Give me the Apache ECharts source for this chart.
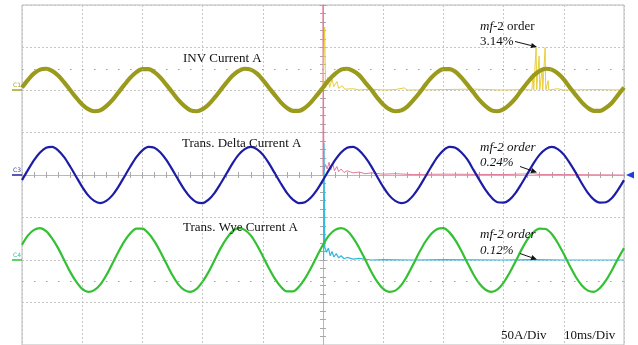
<!DOCTYPE html>
<html><head><meta charset="utf-8">
<script src="https://cdn.jsdelivr.net/npm/echarts@6/dist/echarts.min.js"></script>
<style>html,body{margin:0;padding:0;background:#fff}#c{width:638px;height:345px}</style>
</head><body><div id="c"></div>
<script>
// time base: ms (10 ms / div), vertical: divisions (50 A / div)
const timeMs = [0,1,2,3,4,5,6,7,8,9,10,11,12,13,14,15,16,17,18,19,20,21,22,23,24,25,26,27,28,29,30,31,32,33,34,35,36,37,38,39,40,41,42,43,44,45,46,47,48,49,
  50,51,52,53,54,55,56,57,58,59,60,61,62,63,64,65,66,67,68,69,70,71,72,73,74,75,76,77,78,79,80,81,82,83,84,85,86,87,88,89,90,91,92,93,94,95,96,97,98,99,100];
const c1Div = [2.06,2.24,2.39,2.48,2.50,2.45,2.34,2.18,2.00,1.82,1.66,1.55,1.50,1.52,1.62,1.76,1.94,2.12,2.29,2.42,2.49,2.49,2.42,2.29,2.12,
  1.94,1.76,1.62,1.52,1.50,1.55,1.66,1.82,2.00,2.18,2.34,2.45,2.50,2.48,2.39,2.24,2.06,1.88,1.71,1.58,1.51,1.51,1.58,1.71,1.88,
  2.06,2.24,2.38,2.48,2.50,2.45,2.35,2.18,2.01,1.82,1.66,1.55,1.50,1.52,1.61,1.76,1.93,2.12,2.29,2.42,2.49,2.49,2.43,2.29,2.12,
  1.94,1.76,1.62,1.52,1.50,1.55,1.66,1.81,2.00,2.18,2.34,2.45,2.50,2.48,2.39,2.25,2.06,1.88,1.71,1.58,1.51,1.51,1.58,1.70,1.88,2.06];
const c3Div = [-0.12,0.12,0.35,0.53,0.64,0.66,0.58,0.42,0.20,-0.04,-0.28,-0.48,-0.61,-0.66,-0.61,-0.48,-0.28,-0.04,0.20,0.42,0.58,0.66,0.64,0.53,0.35,
  0.12,-0.12,-0.35,-0.53,-0.64,-0.66,-0.58,-0.42,-0.20,0.04,0.28,0.48,0.61,0.66,0.61,0.48,0.28,0.04,-0.20,-0.42,-0.58,-0.66,-0.64,-0.53,-0.35,
  -0.12,0.12,0.35,0.53,0.64,0.66,0.58,0.42,0.21,-0.04,-0.28,-0.48,-0.61,-0.66,-0.62,-0.48,-0.28,-0.04,0.20,0.42,0.58,0.66,0.64,0.53,0.36,
  0.12,-0.12,-0.35,-0.53,-0.64,-0.65,-0.58,-0.42,-0.20,0.04,0.28,0.48,0.61,0.66,0.61,0.48,0.28,0.05,-0.20,-0.42,-0.58,-0.65,-0.64,-0.54,-0.35,-0.12];
const c4Div = [-1.64,-1.42,-1.29,-1.25,-1.32,-1.49,-1.72,-2.00,-2.28,-2.51,-2.68,-2.75,-2.71,-2.58,-2.36,-2.09,-1.81,-1.56,-1.37,-1.26,-1.26,-1.37,-1.56,-1.81,-2.09,
  -2.36,-2.58,-2.71,-2.75,-2.68,-2.51,-2.28,-2.00,-1.72,-1.49,-1.32,-1.25,-1.29,-1.42,-1.64,-1.91,-2.19,-2.44,-2.63,-2.74,-2.74,-2.63,-2.44,-2.19,-1.91,
  -1.64,-1.42,-1.29,-1.25,-1.31,-1.48,-1.71,-1.99,-2.27,-2.51,-2.68,-2.75,-2.72,-2.59,-2.37,-2.10,-1.82,-1.57,-1.38,-1.27,-1.25,-1.35,-1.54,-1.79,-2.07,
  -2.34,-2.56,-2.70,-2.75,-2.69,-2.53,-2.30,-2.03,-1.75,-1.51,-1.34,-1.26,-1.27,-1.39,-1.60,-1.86,-2.14,-2.40,-2.60,-2.72,-2.75,-2.66,-2.48,-2.24,-1.97,-1.72];
// spectrum (math) traces drawn on the right half
const invFFT = [[50,2.0],[50.15,2.0],[50.28,3.48],[50.42,2.05],[50.8,2.3],[51.1,2.06],[51.5,2.25],[51.8,2.08],[52.3,2.2],[52.6,2.04],[53.2,2.1],[53.6,2.02],
  [55,2.03],[56,2.0],[58,2.02],[60,2.0],[62,2.01],[63.5,2.05],[64,2.0],[70,2.01],[75,2.02],[80,2.0],[83,2.01],[84.7,2.0],
  [84.9,2.4],[85.0,2.0],[85.3,2.0],[85.4,3.0],[85.5,2.0],[85.8,2.0],[85.9,2.8],[86.0,2.0],[86.3,2.0],[86.4,2.5],[86.5,2.0],[86.8,2.0],[86.9,3.0],[87.0,2.0],[87.3,2.0],[87.4,2.22],[87.5,2.0],
  [89,2.03],[90,2.0],[95,2.01],[100,2.0]];
const deltaFFT = [[50,0],[50.02,4.0],[50.15,0.1],[50.4,0.25],[50.7,0.14],[51,0.3],[51.3,0.12],[51.6,0.28],[51.9,0.1],[52.3,0.2],[52.6,0.08],[53,0.14],[53.5,0.06],[54,0.1],
  [55,0.05],[56,0.07],[57,0.03],[58,0.05],[60,0.02],[62,0.03],[65,0.01],[70,0.02],[80,0.01],[85,0.03],[86,0.01],[90,0.01],[100,0]];
const wyeFFT = [[50.1,-2.0],[50.15,0.75],[50.3,-1.7],[50.6,-1.82],[50.9,-1.72],[51.2,-1.9],[51.5,-1.8],[51.8,-1.93],[52.2,-1.85],[52.6,-1.95],[53,-1.9],[53.5,-1.97],[54,-1.94],
  [55,-1.98],[56,-1.96],[58,-2.0],[60,-1.99],[65,-2.0],[70,-1.99],[80,-2.0],[85,-1.99],[90,-2.0],[100,-2.0]];

const pairs = (t, v) => t.map((x, i) => [x, v[i]]);
const chart = echarts.init(document.getElementById('c'));
const G = {left:22, top:5, width:602, height:340};
const serif = '"Liberation Serif", "Times New Roman", serif';
function centerAxis(gi, inside, min, max, interval) {
  return {type:'value', gridIndex:gi, min, max, interval,
    axisLine:{show:true, onZero:true, lineStyle:{color:'#b8b8b8', width:1}},
    axisTick:{show:true, inside, length:3, lineStyle:{color:'#a8a8a8'}},
    minorTick:{show:true, splitNumber:5, length:3, lineStyle:{color:'#a8a8a8'}},
    axisLabel:{show:false}, splitLine:{show:false}};
}
const option = {
  animation:false,
  backgroundColor:'#ffffff',
  grid:[Object.assign({show:true, borderColor:'#b9b9b9', borderWidth:1}, G), Object.assign({}, G), Object.assign({}, G)],
  xAxis:[
    {type:'value', gridIndex:0, min:0, max:100, interval:10, axisLabel:{show:false}, axisTick:{show:false}, axisLine:{show:false},
     splitLine:{show:true, lineStyle:{color:'#c6c6c6', type:[2,2]}}},
    centerAxis(1, false, -50, 50, 10),
    centerAxis(2, true, -50, 50, 10)
  ],
  yAxis:[
    {type:'value', gridIndex:0, min:-4, max:4, interval:1, axisLabel:{show:false}, axisTick:{show:false}, axisLine:{show:false},
     splitLine:{show:true, lineStyle:{color:'#c6c6c6', type:[2,2]}}},
    centerAxis(1, false, -4, 4, 1),
    centerAxis(2, true, -4, 4, 1)
  ],
  series:[
    {type:'line', xAxisIndex:0, yAxisIndex:0, data:[], silent:true, z:1,
     markLine:{silent:true, symbol:'none', label:{show:false}, lineStyle:{color:'#a0a0a0', type:[1.5,10.5], width:1},
       data:[{yAxis:2.5},{yAxis:-2.5}]}},
    {name:'Delta FFT', type:'line', data:deltaFFT, showSymbol:false, lineStyle:{color:'#e27a98', width:1}, z:2},
    {name:'INV FFT', type:'line', data:invFFT, showSymbol:false, lineStyle:{color:'#e8cf3a', width:1}, z:2},
    {name:'Wye FFT', type:'line', data:wyeFFT, showSymbol:false, lineStyle:{color:'#34b9dc', width:1.2}, z:2},
    {name:'INV Current A', type:'line', data:pairs(timeMs, c1Div), smooth:0.3, showSymbol:false,
     lineStyle:{color:'#9a9a1c', width:4.2}, z:3},
    {name:'Trans. Delta Current A', type:'line', data:pairs(timeMs, c3Div), smooth:0.3, showSymbol:false,
     lineStyle:{color:'#1c1ca6', width:2.2}, z:3,
     markPoint:{silent:true, symbol:'triangle', symbolSize:[7,8], symbolRotate:90, symbolOffset:[6,0], label:{show:false},
       itemStyle:{color:'#1d3fd6'}, data:[{coord:[100,0]}]}},
    {name:'Trans. Wye Current A', type:'line', data:pairs(timeMs, c4Div), smooth:0.3, showSymbol:false,
     lineStyle:{color:'#33c033', width:2.2}, z:3}
  ]
};
chart.setOption(option);

function arrow(x1, y1, x2, y2) {
  const a = Math.atan2(y2 - y1, x2 - x1), L = 6, W = 2.6;
  const bx = x2 - L * Math.cos(a), by = y2 - L * Math.sin(a);
  return [
    {type:'line', shape:{x1, y1, x2:bx, y2:by}, style:{stroke:'#111', lineWidth:1}, z:100},
    {type:'polygon', shape:{points:[[x2, y2], [bx - W*Math.sin(a), by + W*Math.cos(a)], [bx + W*Math.sin(a), by - W*Math.cos(a)]]},
     style:{fill:'#111'}, z:100}
  ];
}
function txt(x, y, text, extra) {
  return {type:'text', x, y, z:100, style:Object.assign({text, fill:'#111', fontFamily:serif, fontSize:13,
    textVerticalAlign:'middle', verticalAlign:'middle'}, extra || {})};
}
const ital = {rich:{i:{fontStyle:'italic', fontFamily:serif, fontSize:13, fill:'#111'}}};
const levels = [[2, 'C1', '#a2a222', '#a2a222'], [0, 'C3', '#3a3aa6', '#2222a0'], [-2, 'C4', '#28c2a2', '#33c033']];
const g = [];
levels.forEach(([v, name, tc, lc]) => {
  const p = chart.convertToPixel({xAxisIndex:0, yAxisIndex:0}, [0, v]);
  g.push({type:'line', shape:{x1:12, y1:p[1], x2:p[0], y2:p[1]}, style:{stroke:lc, lineWidth:1.5}, z:100});
  g.push({type:'text', x:13, y:p[1] - 5, z:100, style:{text:name, fill:tc, fontFamily:'DejaVu Sans', fontSize:6,
    textVerticalAlign:'middle', verticalAlign:'middle'}});
});
g.push(txt(183, 58.5, 'INV Current A'));
g.push(txt(182, 143.5, 'Trans. Delta Current A'));
g.push(txt(183, 228, 'Trans. Wye Current A'));
g.push(txt(480, 27, '{i|mf}-2 order', ital));
g.push(txt(480, 42, '3.14%'));
g.push(txt(480, 148, 'mf-2 order', {fontStyle:'italic'}));
g.push(txt(480, 163, '0.24%', {fontStyle:'italic'}));
g.push(txt(480, 235, 'mf-2 order', {fontStyle:'italic'}));
g.push(txt(480, 251, '0.12%', {fontStyle:'italic'}));
g.push(txt(501, 336, '50A/Div'));
g.push(txt(564, 336, '10ms/Div'));
g.push(...arrow(515, 41.5, 537, 47));
g.push(...arrow(520, 166.5, 537, 172.5));
g.push(...arrow(520, 253.5, 537, 259.5));
chart.setOption({graphic:g});
</script>
</body></html>
